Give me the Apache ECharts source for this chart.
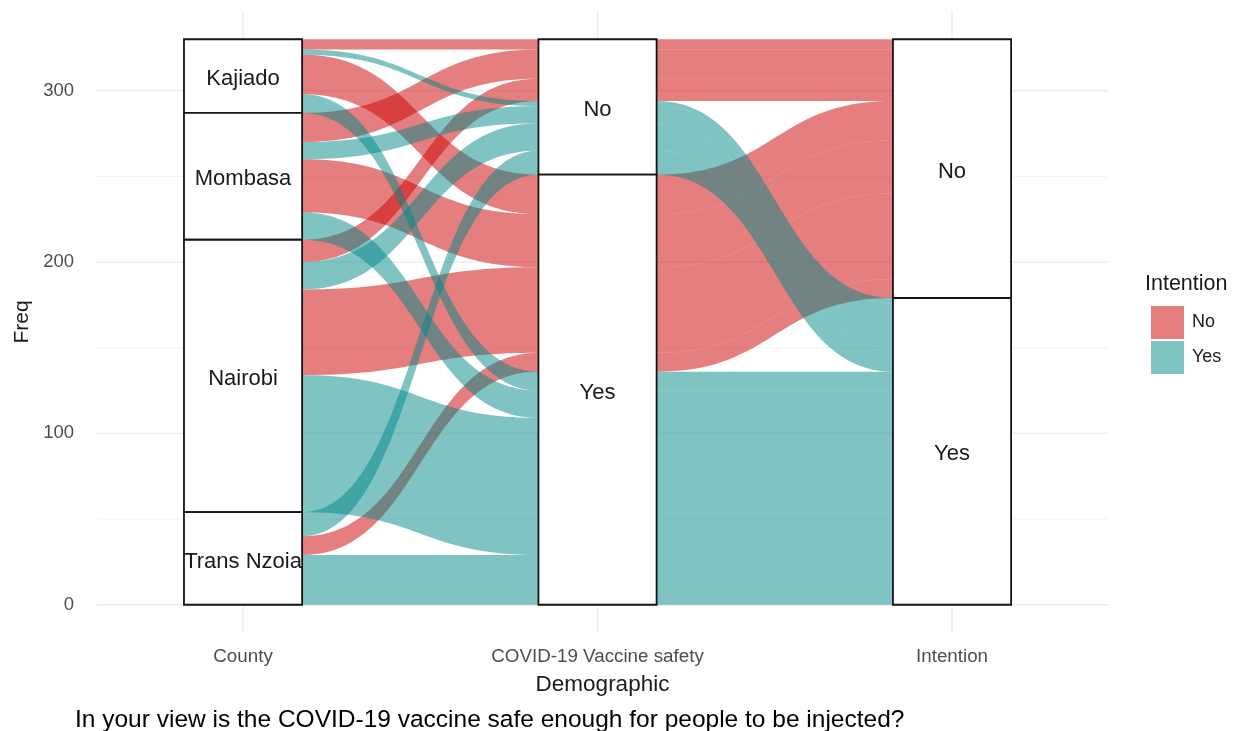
<!DOCTYPE html>
<html>
<head>
<meta charset="utf-8">
<title>COVID-19 vaccine safety alluvial</title>
<script src="https://cdn.jsdelivr.net/npm/echarts@6/dist/echarts.min.js"></script>
<style>
  html, body { margin: 0; padding: 0; background: #fff; }
  #chart { width: 1242px; height: 731px; }
</style>
</head>
<body>
<div id="chart"></div>
<script>
// axes of the alluvial plot and their strata (top to bottom)
const axisNames = ['County', 'COVID-19 Vaccine safety', 'Intention']
const counties = ['Kajiado', 'Mombasa', 'Nairobi', 'Trans Nzoia']
const safetyLevels = ['No', 'Yes']
const intentionLevels = ['No', 'Yes']

// Freq per county (same order as counties) for each safety / intention pair
const freqSafeNoIntNo = [6, 17, 13, 0]
const freqSafeNoIntYes = [3, 10, 16, 14]
const freqSafeYesIntNo = [23, 31, 50, 11]
const freqSafeYesIntYes = [11, 16, 80, 29]

const yTicks = [0, 100, 200, 300]
const yMinorTicks = [50, 150, 250]
const xTicks = [1, 2, 3]

const RED = 'rgba(204, 0, 0, 0.5)'
const TEAL = 'rgba(0, 136, 136, 0.5)'
const FONT = 'Liberation Sans, Arial, sans-serif'

// build alluvia (one per county x safety x intention)
const alluvia = []
const groups = [
  [0, 0, freqSafeNoIntNo],
  [0, 1, freqSafeNoIntYes],
  [1, 0, freqSafeYesIntNo],
  [1, 1, freqSafeYesIntYes]
]
groups.forEach(function (g) {
  g[2].forEach(function (f, c) {
    if (f > 0) alluvia.push({ c: c, s: g[0], t: g[1], f: f, top: [], bot: [] })
  })
})
const total = alluvia.reduce(function (acc, a) { return acc + a.f }, 0)

// lode order inside each stratum (ggalluvial zigzag style)
const lodeKeys = [
  function (a) { return [a.c, a.s, a.t] },
  function (a) { return [a.s, a.t, a.c] },
  function (a) { return [a.t, a.s, a.c] }
]
lodeKeys.forEach(function (keyFn, k) {
  const sorted = alluvia.slice().sort(function (a, b) {
    const ka = keyFn(a)
    const kb = keyFn(b)
    for (let i = 0; i < ka.length; i++) {
      if (ka[i] !== kb[i]) return ka[i] - kb[i]
    }
    return 0
  })
  let y = total
  sorted.forEach(function (a) {
    a.top[k] = y
    y -= a.f
    a.bot[k] = y
  })
})

// strata boxes
const strata = []
const levelsByAxis = [counties, safetyLevels, intentionLevels]
const fieldByAxis = ['c', 's', 't']
levelsByAxis.forEach(function (levels, k) {
  let y = total
  levels.forEach(function (name, i) {
    const n = alluvia.filter(function (a) { return a[fieldByAxis[k]] === i })
      .reduce(function (acc, a) { return acc + a.f }, 0)
    strata.push({ x: k + 1, top: y, bot: y - n, name: name })
    y -= n
  })
})

// flow segments between adjacent axes, split by intention (fill)
const flowsNo = []
const flowsYes = []
alluvia.forEach(function (a) {
  for (let k = 0; k < 2; k++) {
    const seg = {
      x0: k + 1 + 1 / 6, x1: k + 2 - 1 / 6,
      top0: a.top[k], bot0: a.bot[k], top1: a.top[k + 1], bot1: a.bot[k + 1]
    }
    if (a.t === 0) flowsNo.push(seg)
    else flowsYes.push(seg)
  }
})

const xMin = 0.588
const xMax = 3.44
const yMin = -16.5
const yMax = 346.5

function bez(p0, p1, p2, p3, u) {
  const v = 1 - u
  return v * v * v * p0 + 3 * v * v * u * p1 + 3 * v * u * u * p2 + u * u * u * p3
}

function flowRender(list, color) {
  return function (params, api) {
    const s = list[params.dataIndex]
    const w = s.x1 - s.x0
    const n = 48
    const pts = []
    for (let i = 0; i <= n; i++) {
      const u = i / n
      const x = bez(s.x0, s.x0 + w / 2, s.x1 - w / 2, s.x1, u)
      pts.push(api.coord([x, bez(s.top0, s.top0, s.top1, s.top1, u)]))
    }
    for (let i = n; i >= 0; i--) {
      const u = i / n
      const x = bez(s.x0, s.x0 + w / 2, s.x1 - w / 2, s.x1, u)
      pts.push(api.coord([x, bez(s.bot0, s.bot0, s.bot1, s.bot1, u)]))
    }
    return {
      type: 'polygon',
      shape: { points: pts },
      style: { fill: color, stroke: null }
    }
  }
}

const gridLines = []
yTicks.forEach(function (v) { gridLines.push({ dir: 'h', v: v, minor: false }) })
yMinorTicks.forEach(function (v) { gridLines.push({ dir: 'h', v: v, minor: true }) })
xTicks.forEach(function (v) { gridLines.push({ dir: 'v', v: v, minor: false }) })

const chart = echarts.init(document.getElementById('chart'))
chart.setOption({
  animation: false,
  backgroundColor: '#fff',
  grid: { left: 97, right: 134, top: 11, bottom: 98 },
  title: {
    text: 'In your view is the COVID-19 vaccine safe enough for people to be injected?',
    left: 70,
    top: 703,
    textStyle: { fontFamily: FONT, fontSize: 24.5, fontWeight: 'normal', color: '#000' }
  },
  legend: {
    data: ['No', 'Yes'],
    orient: 'vertical',
    left: 1146,
    top: 301,
    icon: 'rect',
    itemWidth: 33,
    itemHeight: 33,
    itemGap: 2,
    selectedMode: false,
    textStyle: { fontFamily: FONT, fontSize: 18, color: '#1a1a1a', padding: [0, 0, 0, 3] }
  },
  graphic: [{
    type: 'text',
    left: 1145,
    top: 273,
    style: { text: 'Intention', fontFamily: FONT, fontSize: 21.5, fill: '#1a1a1a' }
  }],
  xAxis: {
    type: 'value',
    min: xMin,
    max: xMax,
    name: 'Demographic',
    nameLocation: 'middle',
    nameGap: 40,
    nameTextStyle: { fontFamily: FONT, fontSize: 22.5, color: '#1a1a1a' },
    axisLine: { show: false },
    axisTick: { show: false },
    splitLine: { show: false },
    axisLabel: {
      customValues: xTicks,
      formatter: function (v) { return axisNames[Math.round(v) - 1] },
      fontFamily: FONT,
      fontSize: 18.8,
      color: '#4d4d4d',
      margin: 14
    }
  },
  yAxis: {
    type: 'value',
    min: yMin,
    max: yMax,
    name: 'Freq',
    nameLocation: 'middle',
    nameGap: 58,
    nameRotate: 90,
    nameTextStyle: { fontFamily: FONT, fontSize: 21, color: '#1a1a1a' },
    axisLine: { show: false },
    axisTick: { show: false },
    splitLine: { show: false },
    axisLabel: {
      customValues: yTicks,
      fontFamily: FONT,
      fontSize: 18.5,
      color: '#4d4d4d',
      margin: 23
    }
  },
  series: [
    {
      name: 'grid',
      type: 'custom',
      z: 0,
      silent: true,
      data: gridLines.map(function (g, i) { return [i] }),
      renderItem: function (params, api) {
        const g = gridLines[params.dataIndex]
        const p0 = g.dir === 'h' ? api.coord([xMin, g.v]) : api.coord([g.v, yMin])
        const p1 = g.dir === 'h' ? api.coord([xMax, g.v]) : api.coord([g.v, yMax])
        return {
          type: 'line',
          shape: { x1: p0[0], y1: p0[1], x2: p1[0], y2: p1[1] },
          style: { stroke: g.minor ? '#f2f2f2' : '#ebebeb', lineWidth: g.minor ? 1 : 1.3 }
        }
      }
    },
    {
      name: 'No',
      type: 'custom',
      z: 2,
      silent: true,
      itemStyle: { color: RED },
      data: flowsNo.map(function (f, i) { return [i] }),
      renderItem: flowRender(flowsNo, RED)
    },
    {
      name: 'Yes',
      type: 'custom',
      z: 2,
      silent: true,
      itemStyle: { color: TEAL },
      data: flowsYes.map(function (f, i) { return [i] }),
      renderItem: flowRender(flowsYes, TEAL)
    },
    {
      name: 'strata',
      type: 'custom',
      z: 3,
      silent: true,
      data: strata.map(function (s, i) { return [i] }),
      renderItem: function (params, api) {
        const s = strata[params.dataIndex]
        const a = api.coord([s.x - 1 / 6, s.top])
        const b = api.coord([s.x + 1 / 6, s.bot])
        return {
          type: 'group',
          children: [
            {
              type: 'rect',
              shape: { x: a[0], y: a[1], width: b[0] - a[0], height: b[1] - a[1] },
              style: { fill: '#fff', stroke: '#151515', lineWidth: 1.8 }
            },
            {
              type: 'text',
              style: {
                text: s.name,
                x: (a[0] + b[0]) / 2,
                y: (a[1] + b[1]) / 2 + 3,
                align: 'center',
                verticalAlign: 'middle',
                fontFamily: FONT,
                fontSize: 22,
                fill: '#1a1a1a'
              }
            }
          ]
        }
      }
    }
  ]
})
</script>
</body>
</html>
